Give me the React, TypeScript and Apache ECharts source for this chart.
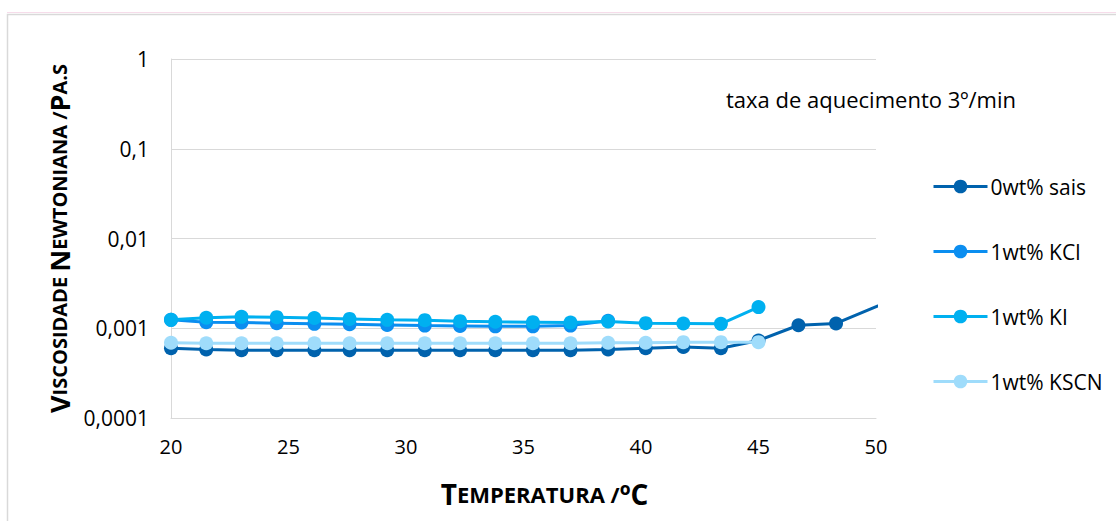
import React, { useEffect, useRef } from "react";
import * as echarts from "echarts";

const temps = [20, 21.5, 23, 24.5, 26.1, 27.6, 29.2, 30.8, 32.3, 33.8, 35.4, 37.0, 38.6, 40.2, 41.8, 43.4, 45.0, 46.7, 48.3, 51.6];

const seriesNames = ["0wt% sais", "1wt% KCl", "1wt% KI", "1wt% KSCN"];
const seriesColors = ["#0062ad", "#0b8ef0", "#00b0f0", "#9fdcfb"];

const sais = [0.0006, 0.00058, 0.00057, 0.00057, 0.00057, 0.00057, 0.00057, 0.00057, 0.00057, 0.00057, 0.00057, 0.00057, 0.00058, 0.0006, 0.00062, 0.0006, 0.00073, 0.00108, 0.00113, 0.0026];
const kcl = [0.00124, 0.00117, 0.00116, 0.00114, 0.00112, 0.00111, 0.00109, 0.00107, 0.00106, 0.00105, 0.00105, 0.00107, 0.00121];
const ki = [0.00124, 0.00131, 0.00134, 0.00133, 0.0013, 0.00127, 0.00124, 0.00123, 0.0012, 0.00118, 0.00117, 0.00116, 0.00119, 0.00114, 0.00113, 0.00112, 0.00172];
const kscn = [0.00069, 0.00068, 0.00068, 0.00068, 0.00068, 0.00068, 0.00068, 0.00068, 0.00068, 0.00068, 0.00068, 0.00068, 0.00069, 0.00069, 0.0007, 0.0007, 0.0007];

const annotation = "taxa de aquecimento 3º/min";

const FONT = "Open Sans";

function pairs(vals: number[]) {
  return vals.map((v, i) => [temps[i], v]);
}

export default function App() {
  const ref = useRef<HTMLDivElement>(null);
  useEffect(() => {
    const chart = echarts.init(ref.current!, null, { renderer: "svg" });
    const allData = [sais, kcl, ki, kscn];
    chart.setOption({
      animation: false,
      backgroundColor: "#ffffff",
      textStyle: { fontFamily: FONT },
      grid: { left: 171, top: 59, right: 240, bottom: 103 },
      xAxis: {
        type: "value",
        min: 20,
        max: 50,
        interval: 5,
        axisLine: { show: true, lineStyle: { color: "#d9d9d9", width: 1 } },
        axisTick: { show: false },
        splitLine: { show: false },
        axisLabel: { color: "#000", fontSize: 20, fontFamily: FONT, margin: 18 },
        name: "{b|T}{s|EMPERATURA /}{o|º}{b|C}",
        nameLocation: "middle",
        nameGap: 62,
        nameTextStyle: {
          padding: [0, 0, 0, 42],
          rich: {
            b: { fontSize: 28, fontWeight: "bold", fontFamily: FONT, color: "#000" },
            s: { fontSize: 22, fontWeight: "bold", fontFamily: FONT, color: "#000" },
            o: { fontSize: 28, fontWeight: "bold", fontFamily: FONT, color: "#000" },
          },
        },
      },
      yAxis: {
        type: "log",
        logBase: 10,
        min: 0.0001,
        max: 1,
        axisLine: { show: true, lineStyle: { color: "#d9d9d9", width: 1 } },
        axisTick: { show: false },
        minorTick: { show: false },
        splitLine: { show: true, lineStyle: { color: "#d9d9d9", width: 1 } },
        axisLabel: {
          color: "#000",
          fontSize: 21,
          fontFamily: FONT,
          margin: 22,
          formatter: (v: number) => String(Number(v.toPrecision(1))).replace(".", ","),
        },
        name: "{b|V}{s|ISCOSIDADE }{b|N}{s|EWTONIANA /}{b|P}{s|A.S}",
        nameLocation: "middle",
        nameGap: 98,
        nameRotate: 90,
        nameTextStyle: {
          rich: {
            b: { fontSize: 27, fontWeight: "bold", fontFamily: FONT, color: "#000" },
            s: { fontSize: 20, fontWeight: "bold", fontFamily: FONT, color: "#000" },
          },
        },
      },
      legend: {
        orient: "vertical",
        left: 927,
        top: 171,
        itemWidth: 54,
        itemHeight: 17,
        itemGap: 44,
        lineStyle: { width: 3 },
        textStyle: { fontSize: 21, fontFamily: FONT, color: "#000", padding: [0, 0, 0, -2] },
        data: seriesNames,
      },
      graphic: [
        {
          type: "line",
          silent: true,
          shape: { x1: 7, y1: 12.5, x2: 1116, y2: 12.5 },
          style: { stroke: "#f6dcea", lineWidth: 1 },
        },
        {
          type: "rect",
          silent: true,
          shape: { x: 7.5, y: 14.5, width: 1200, height: 600 },
          style: { fill: "none", stroke: "#d9d9d9", lineWidth: 1.5 },
        },
        {
          type: "text",
          left: 726,
          top: 88,
          style: { text: annotation, fontSize: 22, fontFamily: FONT, fill: "#000" },
        },
      ],
      series: seriesNames.map((name, i) => ({
        name,
        type: "line",
        data: pairs(allData[i]),
        symbol: "circle",
        symbolSize: 14,
        showSymbol: true,
        clip: true,
        z: 2 + i,
        itemStyle: { color: seriesColors[i] },
        lineStyle: { color: seriesColors[i], width: 3 },
      })),
    });
    return () => chart.dispose();
  }, []);
  return (
    <div
      ref={ref}
      style={{ position: "absolute", left: 0, top: 0, width: 1116, height: 521 }}
    />
  );
}
